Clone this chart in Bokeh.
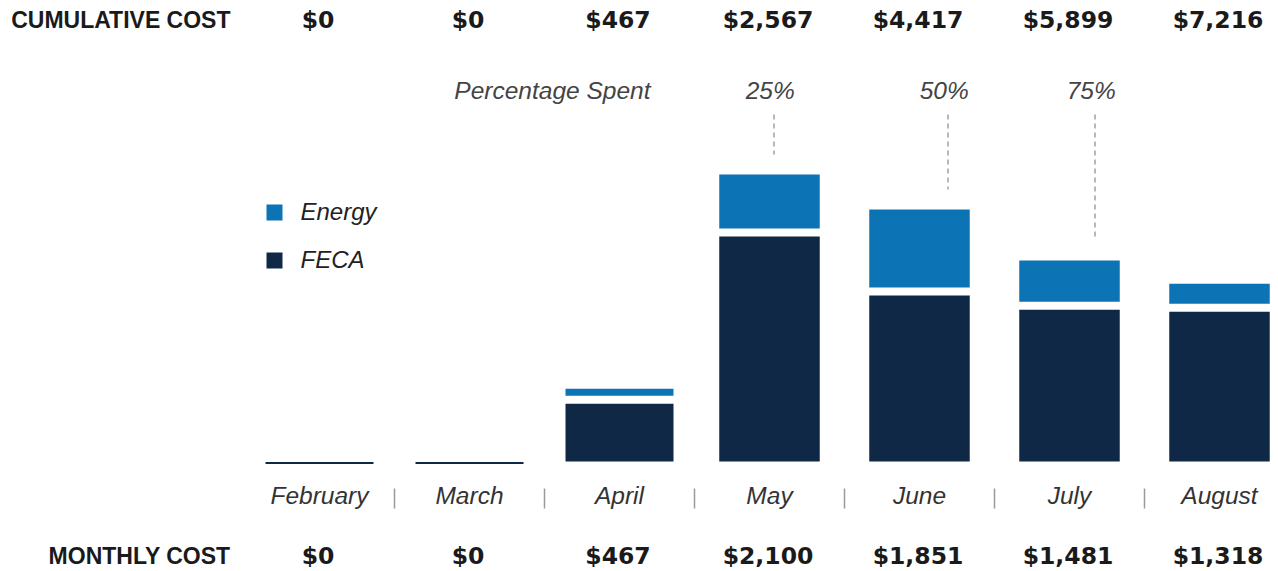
from bokeh.plotting import figure
from bokeh.models import Range1d
from bokeh.core.properties import value
from bokeh.embed import file_html
from bokeh.resources import INLINE

# ---------------- data ----------------
months = ["February", "March", "April", "May", "June", "July", "August"]
feca = [0, 0, 440, 1718, 1267, 1158, 1143]
energy = [0, 0, 55, 412, 595, 316, 153]
monthly_cost = [0, 0, 467, 2100, 1851, 1481, 1318]
cumulative_cost = [0, 0, 467, 2567, 4417, 5899, 7216]
pct_labels = ["25%", "50%", "75%"]
pct_month_pos = [3.03, 4.19, 5.17]   # position on the month axis where the share is reached
legend_items = ["Energy", "FECA"]

# ---------------- layout / style ----------------
W, H = 1278, 571
OFF = 0              # screenshot offset of the canvas
S = 0.131            # px per dollar
BASE_SY = 461        # screenshot y of the baseline
COL0_SX = 319        # screenshot x of first column centre
COL_PX = 150         # px between columns
GAP = 8 / S          # white gap between stacked segments
TDY = -10            # text baseline correction (px)
bar_widths = [0.72, 0.72, 0.72, 0.67, 0.67, 0.67, 0.67]

C_ENERGY = "#0c74b5"
C_FECA = "#0e2846"
C_TEXT = "#1a1a1a"
ITAL = "24.5px"


def YS(sy):
    return (BASE_SY - sy) / S


def YT(sy):
    return YS(sy + TDY)


def XS(sx):
    return (sx - COL0_SX) / COL_PX


p = figure(width=W, height=H, output_backend="svg", toolbar_location=None,
           x_range=Range1d(XS(OFF), XS(OFF + W)), y_range=Range1d(YS(OFF + H), YS(OFF)),
           x_axis_location=None, y_axis_location=None, min_border=0)
p.outline_line_color = None
p.xgrid.visible = False
p.ygrid.visible = False
p.background_fill_color = "white"
p.border_fill_color = "white"

idx = list(range(len(months)))

# bars
nz = [i for i in idx if feca[i] + energy[i] > 0]
p.vbar(x=[i for i in nz], width=[bar_widths[i] for i in nz], bottom=0,
       top=[feca[i] for i in nz], fill_color=C_FECA, line_color=None)
p.vbar(x=[i for i in nz], width=[bar_widths[i] for i in nz],
       bottom=[feca[i] + GAP for i in nz],
       top=[feca[i] + GAP + energy[i] for i in nz], fill_color=C_ENERGY, line_color=None)
zz = [i for i in idx if feca[i] + energy[i] == 0]
p.segment(x0=[i - bar_widths[i] / 2 for i in zz], x1=[i + bar_widths[i] / 2 for i in zz],
          y0=YS(BASE_SY + 1.5), y1=YS(BASE_SY + 1.5), line_color=C_FECA, line_width=2)

# percentage markers
tops = []
for pos in pct_month_pos:
    m = int(round(pos))
    tops.append(feca[m] + GAP + energy[m] + 20 / S)
p.segment(x0=pct_month_pos, x1=pct_month_pos, y0=[YS(114)] * 3, y1=tops,
          line_color="#a6a6a6", line_width=1.6, line_dash="5 4")
p.text(x=[v - 0.025 for v in pct_month_pos], y=[YT(99.5)] * 3, text=pct_labels,
       text_font=value("Liberation Sans"), text_font_style="italic",
       text_font_size=value(ITAL), text_color="#444444",
       text_align="center", text_baseline="alphabetic")
p.text(x=[XS(650)], y=[YT(99.5)], text=["Percentage Spent"],
       text_font=value("Liberation Sans"), text_font_style="italic",
       text_font_size=value(ITAL), text_color="#444444",
       text_align="right", text_baseline="alphabetic")

# legend
p.rect(x=[XS(274)] * 2, y=[YS(212), YS(260)], width=16, height=16,
       width_units="screen", height_units="screen",
       fill_color=[C_ENERGY, C_FECA], line_color=None)
p.text(x=[XS(300)] * 2, y=[YT(220.5), YT(268.5)], text=legend_items,
       text_font=value("Liberation Sans"), text_font_style="italic",
       text_font_size=value("24px"), text_color="#222222",
       text_align="left", text_baseline="alphabetic")

# month labels and separators
p.text(x=idx, y=[YT(505)] * len(idx), text=months,
       text_font=value("Liberation Sans"), text_font_style="italic",
       text_font_size=value(ITAL), text_color="#333333",
       text_align="center", text_baseline="alphabetic")
sep = [i + 0.5 for i in idx[:-1]]
p.segment(x0=sep, x1=sep, y0=[YS(488)] * len(sep), y1=[YS(508)] * len(sep),
          line_color="#9a9a9a", line_width=1.5)

# cost rows
p.text(x=[XS(230)] * 2, y=[YT(29.5), YT(565)], text=["CUMULATIVE COST", "MONTHLY COST"],
       text_font=value("Liberation Sans"), text_font_style="bold",
       text_font_size=value("23px"), text_color=C_TEXT,
       text_align="right", text_baseline="alphabetic")
p.text(x=[i - 0.01 for i in idx], y=[YT(29.5)] * len(idx), text=[f"${v:,}" for v in cumulative_cost],
       text_font=value("DejaVu Sans"), text_font_style="bold",
       text_font_size=value("23.5px"), text_color=C_TEXT,
       text_align="center", text_baseline="alphabetic")
p.text(x=[i - 0.01 for i in idx], y=[YT(565)] * len(idx), text=[f"${v:,}" for v in monthly_cost],
       text_font=value("DejaVu Sans"), text_font_style="bold",
       text_font_size=value("23.5px"), text_color=C_TEXT,
       text_align="center", text_baseline="alphabetic")

open("out.html", "w").write(file_html(p, INLINE))
